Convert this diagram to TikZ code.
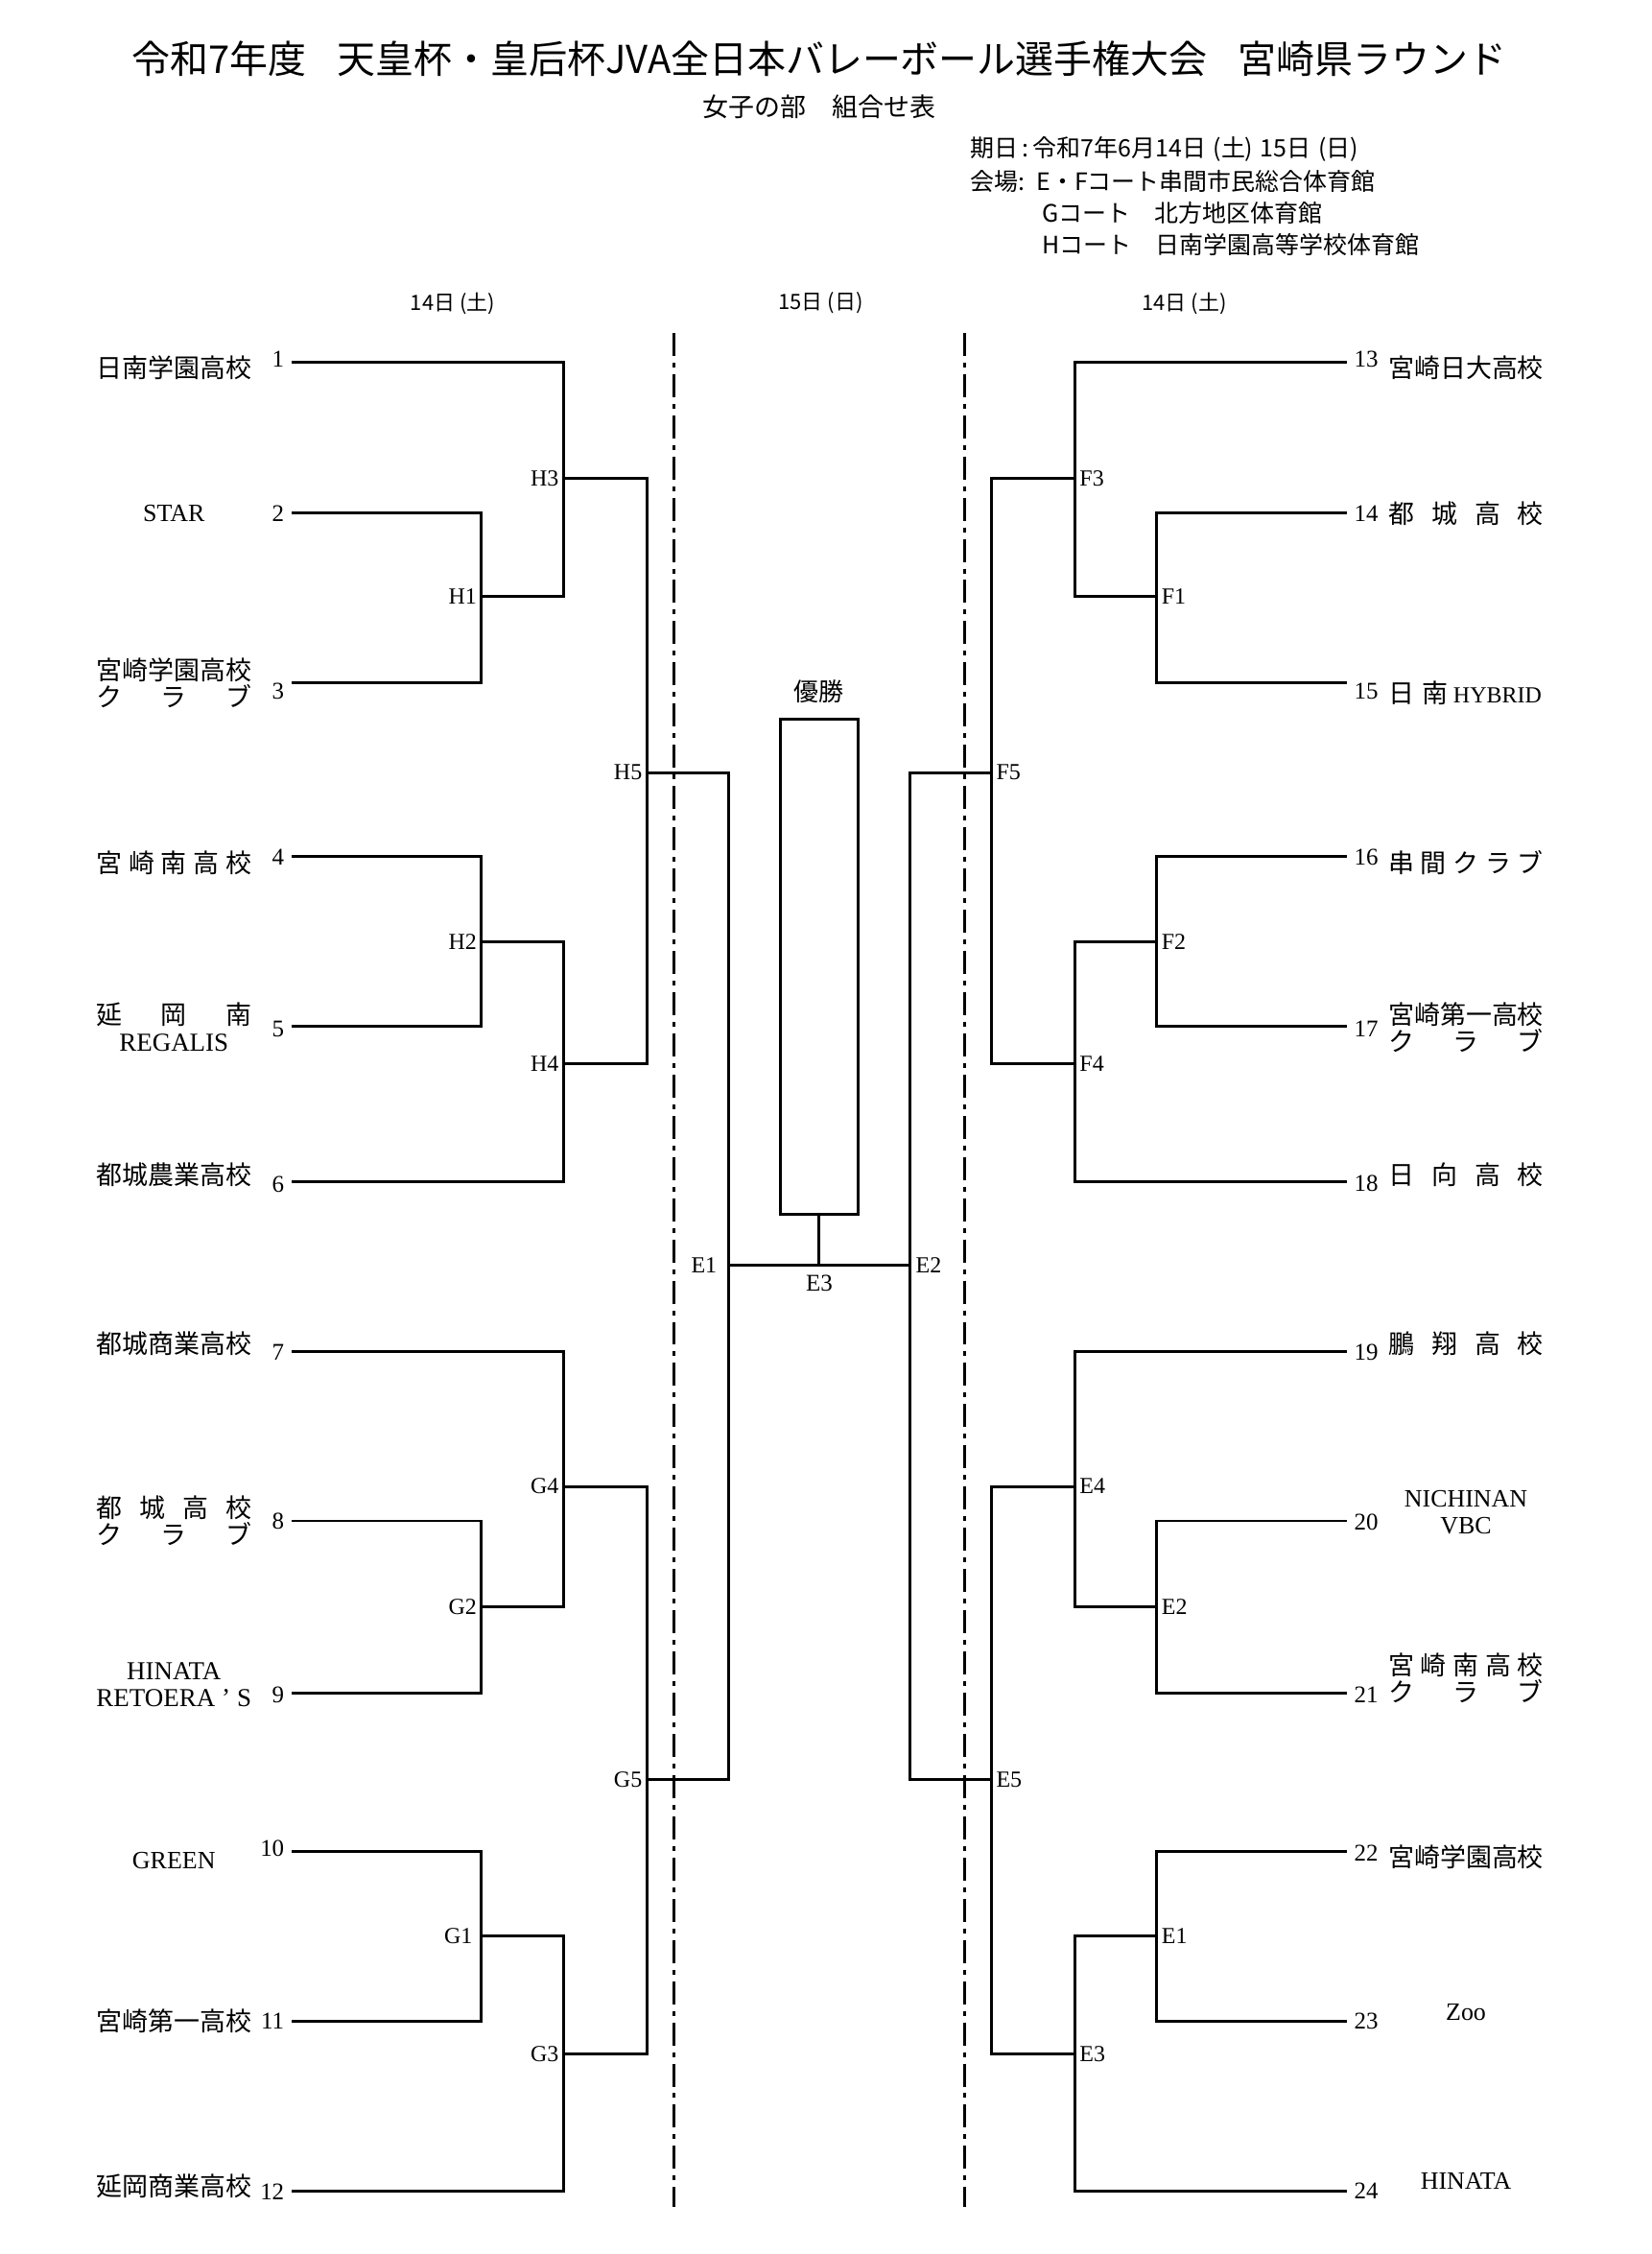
\documentclass[tikz,border=0pt]{standalone}
\usepackage{fontspec}
\setmainfont{Liberation Serif}
\newfontfamily\jp{Noto Sans CJK JP}
\newcommand\jb[1]{\hbox to 81pt{#1}}
\tikzset{
  br/.style={line width=1.5pt, line join=miter},
  ddl/.style={line width=1.3pt, dash pattern=on 12pt off 3.5pt on 2.5pt off 3.5pt},
  ttl/.style={font=\jp\fontsize{20}{22}\selectfont, inner sep=0pt},
  subt/.style={font=\jp\fontsize{13.5}{15}\selectfont, inner sep=0pt},
  info/.style={font=\jp\fontsize{12.5}{14}\selectfont, inner sep=0pt, anchor=west},
  day/.style={font=\jp\fontsize{11}{13}\selectfont, inner sep=0pt},
  nm/.style={font=\fontsize{13.5}{14}\selectfont, inner sep=0pt, align=center},
  lat/.style={font=\fontsize{13}{14}\selectfont, inner sep=0pt, align=center},
  numL/.style={font=\fontsize{12.5}{14}\selectfont, inner sep=0pt, anchor=east},
  numR/.style={font=\fontsize{12.5}{14}\selectfont, inner sep=0pt, anchor=west},
  mlL/.style={font=\fontsize{12}{14}\selectfont, inner sep=0pt, anchor=east},
  mlR/.style={font=\fontsize{12}{14}\selectfont, inner sep=0pt, anchor=west},
  mc/.style={font=\fontsize{12.5}{14}\selectfont, inner sep=0pt},
  champbox/.style={draw, line width=1.5pt, minimum width=40.5pt, minimum height=258.75pt, inner sep=0pt},
  wintext/.style={font=\jp\fontsize{13}{14}\selectfont, inner sep=0pt},
}
\begin{document}
\begin{tikzpicture}[x=0.75pt,y=-0.75pt]
\useasboundingbox (0,0) rectangle (1149,1568);
\fill[white] (0,0) rectangle (1149,1568);

% ---------- header ----------
\node[ttl] (title) at (570,41) {令和7年度\hspace{0.8em}天皇杯・皇后杯JVA全日本バレーボール選手権大会\hspace{0.8em}宮崎県ラウンド};
\node[subt] (subtitle) at (570,74) {女子の部　組合せ表};
\node[info] (date) at (675,103.5) {期日\,:\,令和7年6月14日\hspace{0.3em}(土)\hspace{0.3em}15日\hspace{0.3em}(日)};
\node[info] (venue) at (675,126) {会場:};
\node[info] (vEF) at (721,126) {E・Fコート串間市民総合体育館};
\node[info] (vG) at (725,148) {Gコート　北方地区体育館};
\node[info] (vH) at (725,170) {Hコート　日南学園高等学校体育館};
\node[day] (day1) at (315,211) {14日 (土)};
\node[day] (day2) at (571,211) {15日 (日)};
\node[day] (day3) at (824,211) {14日 (土)};

% ---------- dash-dot separators ----------
\coordinate (ddLt) at (469,231.5);
\coordinate (ddLb) at (469,1535);
\coordinate (ddRt) at (671,231.5);
\coordinate (ddRb) at (671,1535);
\draw[ddl] (ddLt) -- (ddLb);
\draw[ddl] (ddRt) -- (ddRb);

% ---------- left team line ends ----------
\coordinate (t1) at (203,252);
\coordinate (t2) at (203,357);
\coordinate (t3) at (203,475);
\coordinate (t4) at (203,596);
\coordinate (t5) at (203,714);
\coordinate (t6) at (203,822);
\coordinate (t7) at (203,940);
\coordinate (t8) at (203,1058);
\coordinate (t9) at (203,1178);
\coordinate (t10) at (203,1288);
\coordinate (t11) at (203,1406);
\coordinate (t12) at (203,1524);
% left junctions
\coordinate (H1) at (335,415);
\coordinate (H2) at (335,655);
\coordinate (H3) at (392,333);
\coordinate (H4) at (392,740);
\coordinate (H5) at (450,538);
\coordinate (G2) at (335,1118);
\coordinate (G1) at (335,1347);
\coordinate (G4) at (392,1034);
\coordinate (G3) at (392,1429);
\coordinate (G5) at (450,1238);
\coordinate (E1) at (507,880);

% ---------- right team line ends ----------
\coordinate (u13) at (937,252);
\coordinate (u14) at (937,357);
\coordinate (u15) at (937,475);
\coordinate (u16) at (937,596);
\coordinate (u17) at (937,714);
\coordinate (u18) at (937,822);
\coordinate (u19) at (937,940);
\coordinate (u20) at (937,1058);
\coordinate (u21) at (937,1178);
\coordinate (u22) at (937,1288);
\coordinate (u23) at (937,1406);
\coordinate (u24) at (937,1524);
% right junctions
\coordinate (F1) at (805,415);
\coordinate (F2) at (805,655);
\coordinate (F3) at (748,333);
\coordinate (F4) at (748,740);
\coordinate (F5) at (690,538);
\coordinate (rE2) at (805,1118);
\coordinate (rE1) at (805,1347);
\coordinate (rE4) at (748,1034);
\coordinate (rE3) at (748,1429);
\coordinate (rE5) at (690,1238);
\coordinate (E2) at (633,880);
\coordinate (E3) at (570,880);

% ---------- left bracket ----------
\draw[br] (t2) -| (H1);
\draw[br] (t3) -| (H1);
\draw[br] (t1) -| (H3);
\draw[br] (H1) -| (H3);
\draw[br] (t4) -| (H2);
\draw[br] (t5) -| (H2);
\draw[br] (H2) -| (H4);
\draw[br] (t6) -| (H4);
\draw[br] (H3) -| (H5);
\draw[br] (H4) -| (H5);
\draw[br] (t8) -| (G2);
\draw[br] (t9) -| (G2);
\draw[br] (t7) -| (G4);
\draw[br] (G2) -| (G4);
\draw[br] (t10) -| (G1);
\draw[br] (t11) -| (G1);
\draw[br] (G1) -| (G3);
\draw[br] (t12) -| (G3);
\draw[br] (G4) -| (G5);
\draw[br] (G3) -| (G5);
\draw[br] (H5) -| (E1);
\draw[br] (G5) -| (E1);

% ---------- right bracket ----------
\draw[br] (u14) -| (F1);
\draw[br] (u15) -| (F1);
\draw[br] (u13) -| (F3);
\draw[br] (F1) -| (F3);
\draw[br] (u16) -| (F2);
\draw[br] (u17) -| (F2);
\draw[br] (F2) -| (F4);
\draw[br] (u18) -| (F4);
\draw[br] (F3) -| (F5);
\draw[br] (F4) -| (F5);
\draw[br] (u20) -| (rE2);
\draw[br] (u21) -| (rE2);
\draw[br] (u19) -| (rE4);
\draw[br] (rE2) -| (rE4);
\draw[br] (u22) -| (rE1);
\draw[br] (u23) -| (rE1);
\draw[br] (rE1) -| (rE3);
\draw[br] (u24) -| (rE3);
\draw[br] (rE4) -| (rE5);
\draw[br] (rE3) -| (rE5);
\draw[br] (F5) -| (E2);
\draw[br] (rE5) -| (E2);

% ---------- final ----------
\node[champbox] (champ) at (570,672.5) {};
\node[wintext] (win) at (570,481) {優勝};
\draw[br] (E1) -- (E2);
\draw[br] (champ.south) -- (E3);

% ---------- match labels ----------
\node[mlL] (lH3) at (389,333) {H3};
\node[mlL] (lH1) at (332,415) {H1};
\node[mlL] (lH5) at (447,537) {H5};
\node[mlL] (lH2) at (332,655) {H2};
\node[mlL] (lH4) at (389,740) {H4};
\node[mlL] (lE1) at (499,880) {E1};
\node[mlL] (lG4) at (389,1034) {G4};
\node[mlL] (lG2) at (332,1118) {G2};
\node[mlL] (lG5) at (447,1238) {G5};
\node[mlL] (lG1) at (329,1347) {G1};
\node[mlL] (lG3) at (389,1429) {G3};
\node[mlR] (lF3) at (751,333) {F3};
\node[mlR] (lF1) at (808,415) {F1};
\node[mlR] (lF5) at (693,537) {F5};
\node[mlR] (lF2) at (808,655) {F2};
\node[mlR] (lF4) at (751,740) {F4};
\node[mlR] (lE2) at (637,880) {E2};
\node[mlR] (lrE4) at (751,1034) {E4};
\node[mlR] (lrE2) at (808,1118) {E2};
\node[mlR] (lrE5) at (693,1238) {E5};
\node[mlR] (lrE1) at (808,1347) {E1};
\node[mlR] (lrE3) at (751,1429) {E3};
\node[mc] (lE3) at (570,893) {E3};

% ---------- numbers ----------
\node[numL] (k1) at (198,250) {1};
\node[numL] (k2) at (198,357) {2};
\node[numL] (k3) at (198,481) {3};
\node[numL] (k4) at (198,596) {4};
\node[numL] (k5) at (198,716) {5};
\node[numL] (k6) at (198,824) {6};
\node[numL] (k7) at (198,941) {7};
\node[numL] (k8) at (198,1058) {8};
\node[numL] (k9) at (198,1179) {9};
\node[numL] (k10) at (198,1286) {10};
\node[numL] (k11) at (198,1406) {11};
\node[numL] (k12) at (198,1525) {12};
\node[numR] (k13) at (942,250) {13};
\node[numR] (k14) at (942,357) {14};
\node[numR] (k15) at (942,481) {15};
\node[numR] (k16) at (942,596) {16};
\node[numR] (k17) at (942,716) {17};
\node[numR] (k18) at (942,823) {18};
\node[numR] (k19) at (942,941) {19};
\node[numR] (k20) at (942,1059) {20};
\node[numR] (k21) at (942,1179) {21};
\node[numR] (k22) at (942,1289) {22};
\node[numR] (k23) at (942,1406) {23};
\node[numR] (k24) at (942,1524) {24};

% ---------- left team names ----------
\node[nm] (n1) at (121,256) {\jp 日南学園高校};
\node[lat] (n2) at (121,357) {STAR};
\node[nm] (n3) at (121,475) {\jb{\jp 宮崎学園高校}\\\jb{\jp ク\hfill ラ\hfill ブ}};
\node[nm] (n4) at (121,600) {\jb{\jp 宮\hfill 崎\hfill 南\hfill 高\hfill 校}};
\node[nm] (n5) at (121,714.5) {\jb{\jp 延\hfill 岡\hfill 南}\\REGALIS};
\node[nm] (n6) at (121,817) {\jp 都城農業高校};
\node[nm] (n7) at (121,935) {\jp 都城商業高校};
\node[nm] (n8) at (121,1058) {\jb{\jp 都\hfill 城\hfill 高\hfill 校}\\\jb{\jp ク\hfill ラ\hfill ブ}};
\node[nm] (n9) at (121,1172) {HINATA\\\jb{RETOERA\hfill ’\hfill S}};
\node[lat] (n10) at (121,1294) {GREEN};
\node[nm] (n11) at (121,1406) {\jp 宮崎第一高校};
\node[nm] (n12) at (121,1521) {\jp 延岡商業高校};

% ---------- right team names ----------
\node[nm] (n13) at (1020,256) {\jp 宮崎日大高校};
\node[nm] (n14) at (1020,357) {\jb{\jp 都\hfill 城\hfill 高\hfill 校}};
\node[nm, anchor=west] (n15) at (966,482) {{\jp 日\hspace{0.3em}南}\hspace{0.2em}{\fontsize{12}{14}\selectfont HYBRID}};
\node[nm] (n16) at (1020,600) {\jb{\jp 串\hfill 間\hfill ク\hfill ラ\hfill ブ}};
\node[nm] (n17) at (1020,714.5) {\jb{\jp 宮崎第一高校}\\\jb{\jp ク\hfill ラ\hfill ブ}};
\node[nm] (n18) at (1020,817) {\jb{\jp 日\hfill 向\hfill 高\hfill 校}};
\node[nm] (n19) at (1020,935) {\jb{\jp 鵬\hfill 翔\hfill 高\hfill 校}};
\node[lat] (n20) at (1020,1052) {NICHINAN\\VBC};
\node[nm] (n21) at (1020,1167) {\jb{\jp 宮\hfill 崎\hfill 南\hfill 高\hfill 校}\\\jb{\jp ク\hfill ラ\hfill ブ}};
\node[nm] (n22) at (1020,1292) {\jp 宮崎学園高校};
\node[lat] (n23) at (1020,1400) {Zoo};
\node[lat] (n24) at (1020,1517) {HINATA};
\end{tikzpicture}
\end{document}
